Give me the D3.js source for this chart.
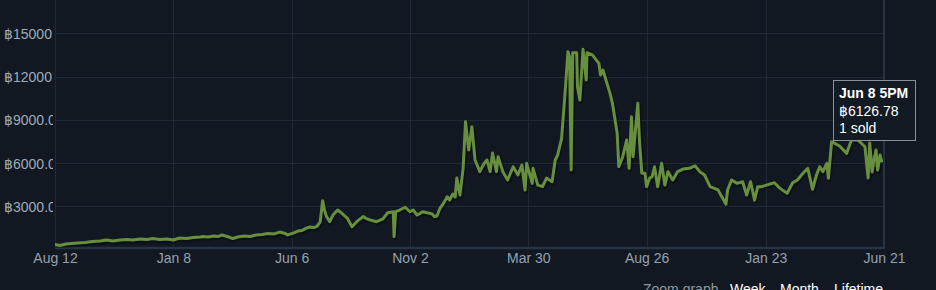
<!DOCTYPE html>
<html>
<head>
<meta charset="utf-8">
<script src="https://cdn.jsdelivr.net/npm/d3@7"></script>
<style>
  html, body { margin: 0; padding: 0; background: #121821; }
  svg { display: block; font-family: Arial, "Liberation Sans", "DejaVu Sans", sans-serif; }
</style>
</head>
<body>
<svg width="936" height="290"></svg>
<script>
// first day of the series, every point below is "days since" this date
const startDate = new Date(2018, 7, 12)
const endDate = new Date(2021, 5, 21)

const xTickDates = ["2018-08-12", "2019-01-08", "2019-06-06", "2019-11-02", "2020-03-30", "2020-08-26", "2021-01-23", "2021-06-21"]
const xTickLabels = ["Aug 12", "Jan 8", "Jun 6", "Nov 2", "Mar 30", "Aug 26", "Jan 23", "Jun 21"]
const yTicks = [3000, 6000, 9000, 12000, 15000]

const days = [
    0, 6, 14, 21, 29, 38, 47, 57, 65, 73, 82, 91, 98, 107, 116, 123, 132, 141, 149, 157,
    166, 174, 183, 186, 193, 200, 206, 210, 217, 224, 230, 238, 246, 253, 261, 268, 276, 283, 290, 293,
    300, 306, 311, 316, 321, 326, 330, 334, 337, 340, 342, 346, 350, 356, 361, 368, 374, 380, 388, 393,
    397, 405, 413, 419, 426, 427, 429, 434, 441, 447, 451, 456, 460, 463, 470, 475, 478, 481, 485, 488,
    494, 497, 501, 504, 506, 510, 514, 517, 521, 525, 529, 535, 540, 544, 548, 551, 556, 558, 564, 570,
    577, 583, 588, 592, 594, 601, 602, 608, 614, 619, 626, 630, 633, 638, 642, 646, 648, 650, 652, 657,
    658, 661, 665, 669, 670, 677, 685, 687, 690, 699, 702, 708, 710, 715, 720, 723, 726, 728, 731, 734,
    736, 739, 743, 745, 749, 752, 755, 759, 764, 768, 772, 778, 784, 791, 799, 806, 812, 818, 825, 835,
    845, 847, 852, 859, 866, 871, 876, 881, 885, 890, 896, 903, 906, 913, 922, 929, 935, 942, 948, 954,
    959, 963, 967, 972, 974, 978, 988, 997, 1003, 1011, 1020, 1024, 1026, 1029, 1031, 1034, 1036, 1039, 1041
]

const prices = [
    350, 280, 380, 420, 450, 490, 550, 590, 660, 590, 660, 690, 660, 730, 690, 760, 690, 730, 660, 800,
    760, 830, 870, 900, 870, 940, 900, 1010, 900, 760, 870, 940, 900, 1010, 1040, 1110, 1080, 1210, 1110, 1010,
    1140, 1280, 1320, 1460, 1560, 1530, 1600, 1910, 3390, 2600, 2280, 1930, 2390, 2740, 2530, 2180, 1580, 1930, 2280, 2120,
    2050, 1930, 2120, 2550, 2620, 890, 2620, 2740, 2930, 2620, 2740, 2390, 2510, 2620, 2530, 2460, 2280, 2320, 2880, 3090,
    3660, 3430, 3850, 3640, 4960, 3780, 5650, 8860, 6900, 8520, 6210, 5400, 5930, 6210, 5400, 6690, 5400, 6440, 5400, 4820,
    5740, 5170, 5860, 4130, 5980, 4590, 5630, 4470, 4360, 4960, 4700, 6210, 6550, 7710, 10600, 13720, 13370, 5510, 13650, 13650,
    11290, 10370, 13890, 11760, 13650, 13490, 12910, 12100, 12450, 10830, 10140, 8060, 5740, 6440, 7600, 5630, 9210, 6440, 8290, 10140,
    7600, 5290, 5290, 4360, 4960, 5050, 5740, 4360, 5980, 4470, 5400, 4820, 5400, 5580, 5630, 5810, 5400, 5170, 4360, 4130,
    3140, 4130, 4820, 4590, 4700, 3780, 4700, 3430, 4360, 4360, 4470, 4590, 4630, 4240, 3900, 4630, 4820, 5290, 5630, 4180,
    5170, 5740, 5400, 5980, 4940, 7480, 7180, 6670, 7600, 7600, 7130, 4960, 7390, 5380, 6126.78, 6900, 5510, 6550, 6140
]

// the point under the mouse in the screenshot
const hoverIndex = 194
const hoverLabel = "Jun 8 5PM"
const hoverSold = "1 sold"

const zoomLabels = ["Week", "Month", "Lifetime"]

const parseDay = d3.timeParse("%Y-%m-%d")

function chart(){
    const svg = d3.select("svg")
    const left = 55, right = 884, bottom = 248

    const xScale = d3.scaleTime().domain([startDate, endDate]).range([left, right])
    const yScale = d3.scaleLinear().domain([0, 15000]).range([249.5, 33.3])

    const data = days.map((d, i) => ({ date: d3.timeDay.offset(startDate, d), price: prices[i] }))

    svg.append("defs").append("clipPath")
        .attr("id", "plotClip")
        .append("rect")
        .attr("x", left).attr("y", 0)
        .attr("width", right - left).attr("height", bottom)

    // horizontal grid + y labels
    const yAxis = d3.axisLeft(yScale).tickValues(yTicks).tickSize(-(right - left)).tickFormat(d => "฿" + d.toFixed(2))
    svg.append("g")
        .attr("id", "yAxisG")
        .attr("transform", `translate(${left}, 0)`)
        .call(yAxis)

    d3.select("#yAxisG").selectAll("line")
        .attr("stroke", "#1e2a37")
        .attr("stroke-width", 1)
        .attr("shape-rendering", "crispEdges")

    // labels are cut where the plot starts
    d3.select("#yAxisG").append("clipPath")
        .attr("id", "labelClipLocal")
        .append("rect")
        .attr("x", -left).attr("y", -30)
        .attr("width", left - 2).attr("height", 60)

    d3.select("#yAxisG").selectAll("text")
        .attr("x", 4 - left)
        .attr("text-anchor", "start")
        .attr("dy", "0.36em")
        .attr("fill", "#9eabb8")
        .attr("clip-path", "url(#labelClipLocal)")
        .style("font-size", "14px")

    // vertical grid + x labels
    const xAxis = d3.axisBottom(xScale).tickValues(xTickDates.map(parseDay)).tickSize(-bottom)
        .tickFormat((d, i) => xTickLabels[i])
    svg.append("g")
        .attr("id", "xAxisG")
        .attr("transform", `translate(0, ${bottom})`)
        .call(xAxis)

    d3.select("#xAxisG").selectAll("line")
        .attr("stroke", "#1e2a37")
        .attr("stroke-width", 1)
        .attr("shape-rendering", "crispEdges")

    d3.select("#xAxisG").selectAll("text")
        .attr("y", 14.5)
        .attr("dy", "0")
        .attr("fill", "#93a1b1")
        .style("font-size", "14px")

    svg.selectAll("path.domain").style("display", "none")

    // plot border: bottom and right
    svg.append("line")
        .attr("x1", left).attr("x2", right + 1)
        .attr("y1", bottom).attr("y2", bottom)
        .attr("stroke", "#263343").attr("stroke-width", 2.5)
    svg.append("line")
        .attr("x1", right).attr("x2", right)
        .attr("y1", 0).attr("y2", bottom)
        .attr("stroke", "#263343").attr("stroke-width", 2)

    const line = d3.line()
        .x(d => xScale(d.date))
        .y(d => yScale(d.price))

    const plot = svg.append("g").attr("clip-path", "url(#plotClip)")

    plot.append("path")
        .datum(data)
        .attr("d", line)
        .attr("transform", "translate(1, 1.5)")
        .attr("fill", "none")
        .attr("stroke", "#000")
        .attr("stroke-opacity", 0.3)
        .attr("stroke-width", 4.5)
        .attr("stroke-linejoin", "round")

    plot.append("path")
        .datum(data)
        .attr("d", line)
        .attr("fill", "none")
        .attr("stroke", "#688f3e")
        .attr("stroke-width", 3)
        .attr("stroke-linejoin", "round")
        .attr("stroke-linecap", "round")

    const hp = data[hoverIndex]
    plot.append("circle")
        .attr("cx", xScale(hp.date))
        .attr("cy", yScale(hp.price))
        .attr("r", 6)
        .attr("fill", "#688f3e")
        .attr("fill-opacity", 0.25)

    // tooltip
    const tip = svg.append("g").attr("transform", "translate(833.5, 80.5)")
    tip.append("rect")
        .attr("width", 82).attr("height", 60)
        .attr("fill", "#121a24")
        .attr("stroke", "#8b9097")
        .attr("stroke-width", 1)
    tip.append("text")
        .attr("x", 5.5).attr("y", 17.5)
        .attr("fill", "#fff")
        .style("font-size", "14px").style("font-weight", "bold")
        .text(hoverLabel)
    tip.append("text")
        .attr("x", 5.5).attr("y", 35)
        .attr("fill", "#fff")
        .style("font-size", "14px")
        .text("฿" + hp.price.toFixed(2))
    tip.append("text")
        .attr("x", 5.5).attr("y", 52)
        .attr("fill", "#fff")
        .style("font-size", "14px")
        .text(hoverSold)

    // zoom links at the bottom, cut off by the window like in the page
    svg.append("text")
        .attr("x", 643).attr("y", 294)
        .attr("fill", "#8f98a0")
        .style("font-size", "14px")
        .text("Zoom graph")
    svg.append("g")
        .selectAll("text")
        .data(zoomLabels)
        .enter()
        .append("text")
        .attr("x", (d, i) => [730, 780, 834][i])
        .attr("y", 294)
        .attr("fill", "#fff")
        .style("font-size", "14px")
        .text(d => d)
}

chart()
</script>
</body>
</html>
